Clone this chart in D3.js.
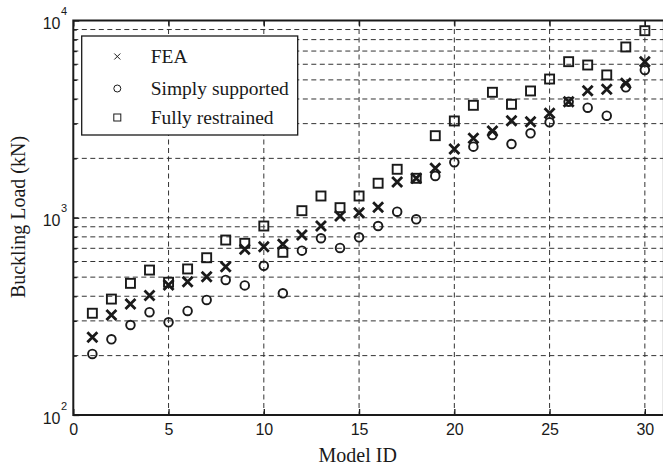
<!DOCTYPE html>
<html><head><meta charset="utf-8">
<script src="https://cdn.jsdelivr.net/npm/d3@7"></script>
<style>body{margin:0;background:#fff}svg{display:block}</style>
</head><body>
<script>
const modelIds = d3.range(1, 31);
const feaValues = [248, 321, 365, 403, 456, 474, 502, 565, 692, 713, 733, 818, 908, 1021, 1061, 1130, 1518, 1585, 1781, 2232, 2529, 2753, 3104, 3069, 3385, 3875, 4409, 4479, 4810, 6184];
const simplyValues = [204, 242, 286, 332, 295, 337, 383, 484, 454, 571, 414, 681, 787, 703, 796, 908, 1073, 982, 1629, 1910, 2293, 2628, 2365, 2680, 3049, 3875, 3615, 3291, 4585, 5611];
const fullyValues = [328, 387, 465, 543, 471, 550, 627, 771, 742, 908, 668, 1086, 1289, 1125, 1289, 1496, 1761, 1585, 2606, 3095, 3716, 4326, 3760, 4393, 5050, 6184, 5947, 5297, 7341, 8878];
const xTicks = [0, 5, 10, 15, 20, 25, 30];
const yMajorTicks = [100, 1000, 10000];
const yMinorTicks = [200,300,400,500,600,700,800,900,2000,3000,4000,5000,6000,7000,8000,9000];
const legendLabels = ["FEA", "Simply supported", "Fully restrained"];

const W = 663, H = 474;
const L = 73.3, R = 663.9, T = 20.5, B = 415;
const ink = "#1a1a1a";

const svg = d3.select("body").append("svg").attr("width", W).attr("height", H);
const x = d3.scaleLinear().domain([0, 31]).range([L, R]);
const y = d3.scaleLog().domain([100, 10000]).range([B, T]);

// grid
const grid = svg.append("g").attr("stroke", "#333").attr("stroke-width", 1).attr("stroke-dasharray", "5,3.5");
grid.selectAll("line.v").data(xTicks.filter(d => d > 0)).join("line")
  .attr("x1", d => x(d)).attr("x2", d => x(d)).attr("y1", T).attr("y2", B);
grid.selectAll("line.h").data(yMinorTicks.concat([1000])).join("line")
  .attr("x1", L).attr("x2", R).attr("y1", d => y(d)).attr("y2", d => y(d));

// markers
const pts = svg.append("g").attr("fill", "none").attr("stroke", ink);
pts.selectAll("rect").data(fullyValues).join("rect")
  .attr("x", (d, i) => x(modelIds[i]) - 4.5).attr("y", d => y(d) - 4.5)
  .attr("width", 9).attr("height", 9).attr("stroke-width", 1.9);
pts.selectAll("circle").data(simplyValues).join("circle")
  .attr("cx", (d, i) => x(modelIds[i])).attr("cy", d => y(d)).attr("r", 4.3).attr("stroke-width", 1.9);
pts.selectAll("path").data(feaValues).join("path")
  .attr("d", "M-5,-5L5,5M-5,5L5,-5")
  .attr("transform", (d, i) => `translate(${x(modelIds[i])},${y(d)})`).attr("stroke-width", 2.8);

// axes
const fix = g => { g.select(".domain").remove(); g.selectAll(".tick line").attr("stroke", ink).attr("stroke-width", 1.3); };
svg.append("g").attr("transform", `translate(0,${B})`)
  .call(d3.axisBottom(x).tickValues(xTicks).tickSize(-6).tickPadding(15).tickFormat(d3.format("d")))
  .call(fix)
  .call(g => g.selectAll("text").attr("font-family", "Liberation Sans, Arial, sans-serif").attr("font-size", 16).attr("fill", ink).attr("dy", "0.3em"));
svg.append("g").attr("transform", `translate(0,${T})`)
  .call(d3.axisTop(x).tickValues(xTicks).tickSize(-6).tickFormat(""))
  .call(fix);
svg.append("g").attr("transform", `translate(${L},0)`)
  .call(d3.axisLeft(y).tickValues(yMajorTicks).tickSize(-6).tickFormat(""))
  .call(fix);
svg.append("g").attr("transform", `translate(${L},0)`)
  .call(d3.axisLeft(y).tickValues(yMinorTicks).tickSize(-3.5).tickFormat(""))
  .call(fix);

const yl = svg.append("g").attr("font-family", "Liberation Sans, Arial, sans-serif").attr("fill", ink);
yl.selectAll("text.base").data(yMajorTicks).join("text")
  .attr("x", 60.5).attr("y", d => y(d) + 8.5).attr("text-anchor", "end").attr("font-size", 16).text("10");
yl.selectAll("text.exp").data(yMajorTicks).join("text")
  .attr("x", 61).attr("y", d => y(d) - 5.5).attr("font-size", 11).text(d => Math.round(Math.log10(d)));

// frame
svg.append("rect").attr("x", L).attr("y", T).attr("width", R - L).attr("height", B - T)
  .attr("fill", "none").attr("stroke", ink).attr("stroke-width", 2);

// axis labels
svg.append("text").attr("x", 357.7).attr("y", 461.5).attr("text-anchor", "middle")
  .attr("font-family", "Liberation Serif, Times New Roman, serif").attr("font-size", 20).attr("fill", ink).text("Model ID");
svg.append("text").attr("transform", "translate(25,217) rotate(-90)").attr("text-anchor", "middle")
  .attr("font-family", "Liberation Serif, Times New Roman, serif").attr("font-size", 20).attr("fill", ink).text("Buckling Load (kN)");

// legend
const lg = svg.append("g");
lg.append("rect").attr("x", 81.7).attr("y", 36).attr("width", 216).attr("height", 99)
  .attr("fill", "#fff").attr("stroke", ink).attr("stroke-width", 1.3);
const ly = [56.5, 88.5, 117.5];
lg.append("path").attr("d", "M-3,-3L3,3M-3,3L3,-3").attr("transform", `translate(117.3,${ly[0]})`).attr("stroke", ink).attr("stroke-width", 1);
lg.append("circle").attr("cx", 117.3).attr("cy", ly[1]).attr("r", 3.5).attr("fill", "none").attr("stroke", ink).attr("stroke-width", 1);
lg.append("rect").attr("x", 117.3 - 3.5).attr("y", ly[2] - 3.5).attr("width", 7).attr("height", 7).attr("fill", "none").attr("stroke", ink).attr("stroke-width", 1);
lg.selectAll("text").data(legendLabels).join("text")
  .attr("x", 150.7).attr("y", (d, i) => ly[i] + 6.5)
  .attr("font-family", "Liberation Serif, Times New Roman, serif").attr("font-size", 19.5).attr("fill", ink).text(d => d);
</script>
</body></html>
